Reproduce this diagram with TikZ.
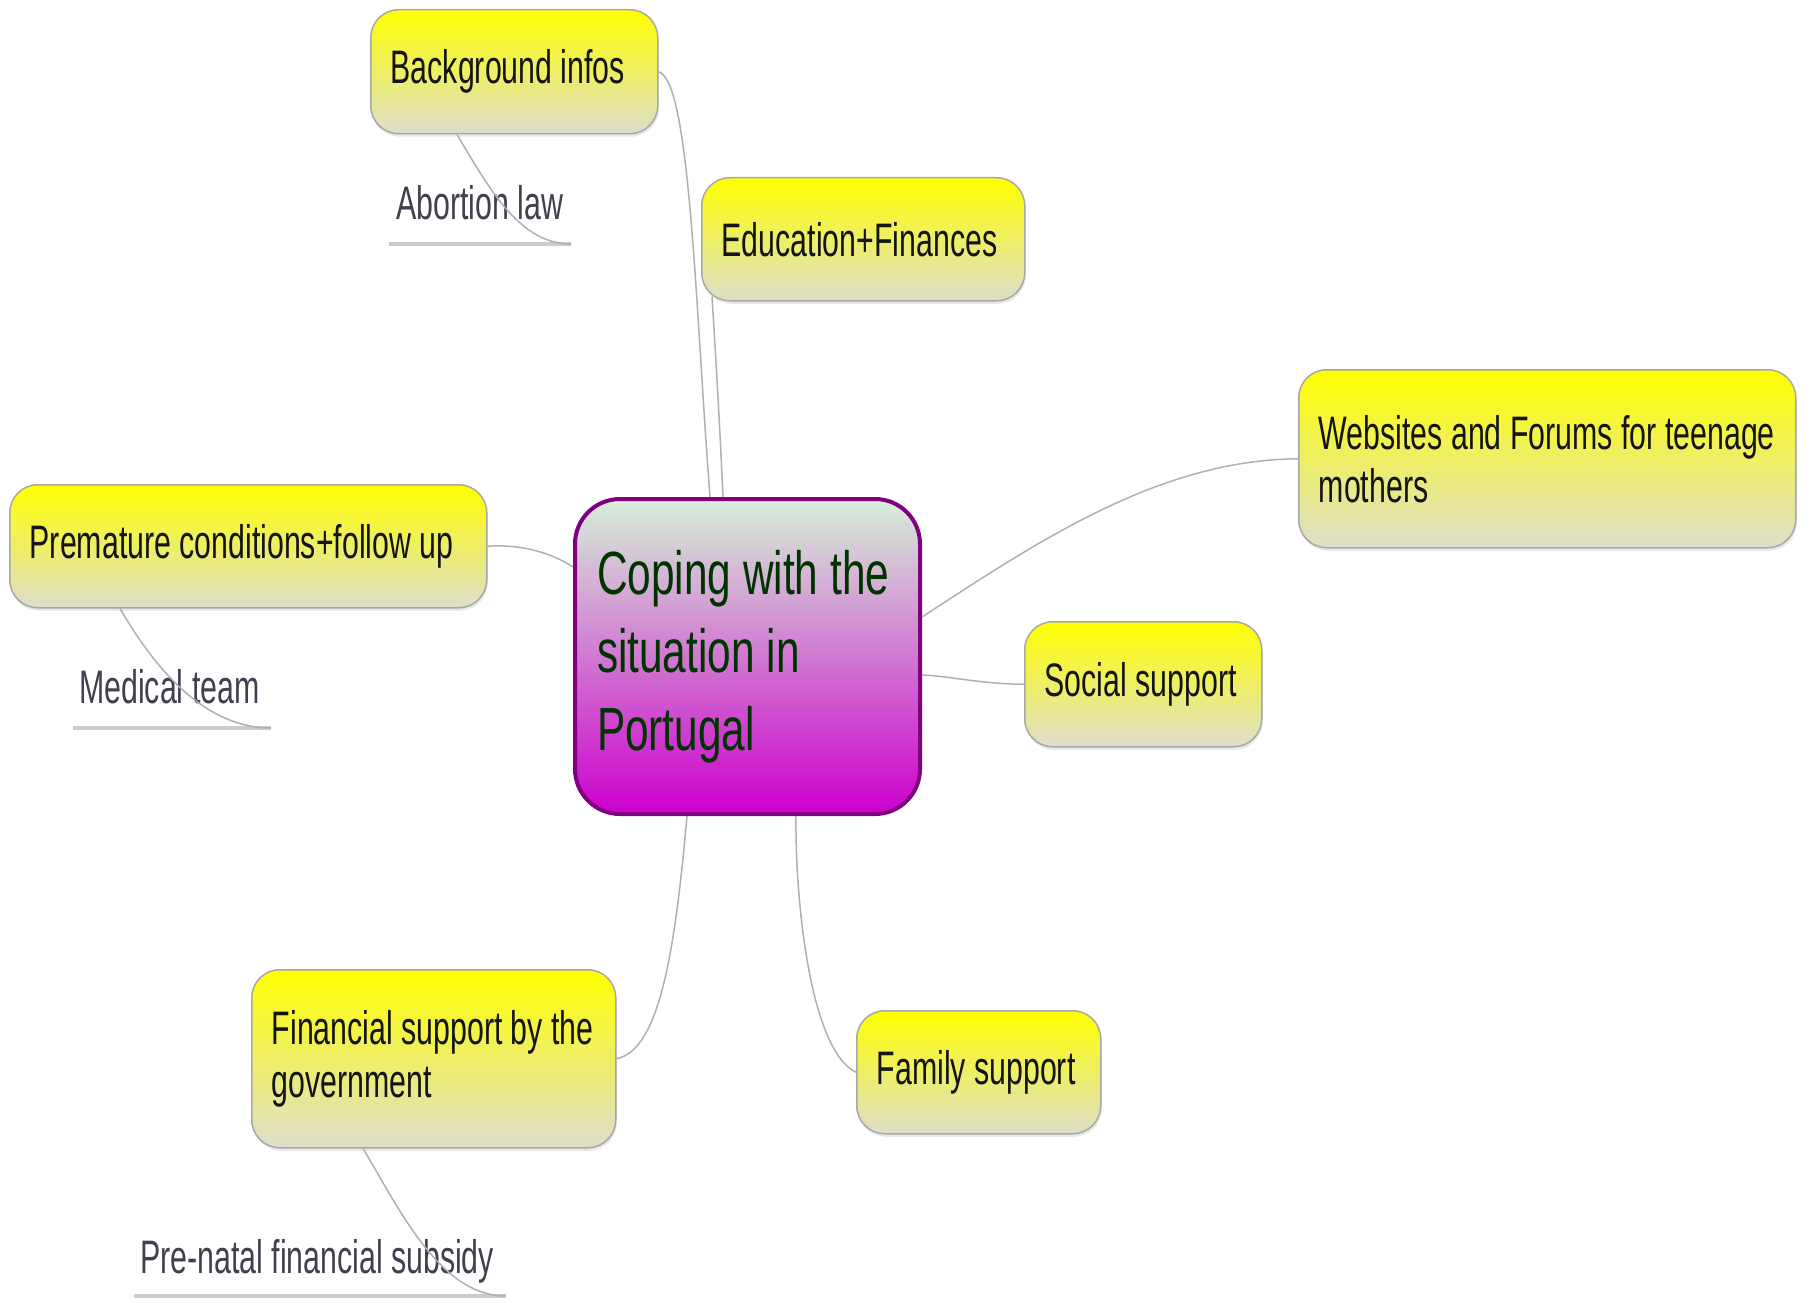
\documentclass[tikz,border=0pt]{standalone}
\usepackage{fontspec}
\setmainfont{Liberation Sans}
\newfontfamily\boxfont[FakeStretch=0.645]{Liberation Sans}
\newfontfamily\centfont[FakeStretch=0.695]{Liberation Sans}
\newcommand\natsp{\spaceskip=0pt\xspaceskip=0pt\relax}
\usetikzlibrary{shadows}
\definecolor{ylwtop}{HTML}{FFFF00}
\definecolor{ylwbot}{HTML}{DEDECC}
\definecolor{boxborder}{HTML}{A8A8A8}
\definecolor{connc}{HTML}{B0B0B0}
\definecolor{ulinec}{HTML}{CCCCCC}
\definecolor{centborder}{HTML}{800080}
\definecolor{centtop}{HTML}{D6F0D8}
\definecolor{centbot}{HTML}{CC00CC}
\definecolor{centtext}{HTML}{003300}
\definecolor{boxtext}{HTML}{141414}
\definecolor{subtext}{HTML}{40404F}
\tikzset{
  topic/.style={draw=boxborder, line width=1.5pt, rounded corners=28pt,
    top color=ylwtop, bottom color=ylwbot, anchor=north west,
    drop shadow={opacity=0.18, shadow xshift=1pt, shadow yshift=-3pt},
    font=\boxfont\fontsize{47}{53}\selectfont, text=boxtext,
    align=left, inner xsep=20pt, inner ysep=0pt},
  centre/.style={draw=centborder, line width=4pt, rounded corners=45pt,
    top color=centtop, bottom color=centbot, anchor=north west,
    font=\centfont\fontsize{61}{78}\selectfont, text=centtext,
    align=left, inner xsep=22pt, inner ysep=0pt},
  subitem/.style={anchor=base west, inner sep=0pt,
    font=\boxfont\fontsize{47}{53}\selectfont, text=subtext},
  conn/.style={draw=connc, line width=1.5pt},
  uline/.style={draw=ulinec, line width=3.5pt}
}
\begin{document}
\begin{tikzpicture}[x=1pt,y=-1pt]
\useasboundingbox (0,0) rectangle (1816,1303);
\fill[white] (0,0) rectangle (1816,1303);

\node[centre, text width=301pt, minimum height=315pt] (central) at (573,497)
  {\natsp\mbox{Coping with the}\\\mbox{situation in}\\Portugal};
\node[topic, text width=247pt, minimum height=124pt] (bg) at (370,9) {\natsp\mbox{Background infos}};
\node[topic, text width=283pt, minimum height=123pt] (edu) at (701,177) {\natsp Education+Finances};
\node[topic, text width=457pt, minimum height=178pt] (web) at (1298,369) {\natsp\mbox{Websites and Forums for teenage}\\mothers};
\node[topic, text width=437pt, minimum height=123pt] (pre) at (9,484) {\natsp\mbox{Premature conditions+follow up}};
\node[topic, text width=197pt, minimum height=125pt] (soc) at (1024,621) {\natsp\mbox{Social support}};
\node[topic, text width=204pt, minimum height=123pt] (fam) at (856,1010) {\natsp\mbox{Family support}};
\node[topic, text width=324pt, minimum height=178pt] (fin) at (251,969) {\natsp\mbox{Financial support by the}\\government};

\node[subitem] (abl) at (396,219) {Abortion law};
\node[subitem] (med) at (79,703) {Medical team};
\node[subitem] (pns) at (140,1273) {Pre-natal financial subsidy};

\coordinate (ablL) at (389,244);
\coordinate (ablR) at (571,244);
\coordinate (medL) at (73,728);
\coordinate (medR) at (271,728);
\coordinate (pnsL) at (134,1296);
\coordinate (pnsR) at (506,1296);

\draw[uline] (ablL) -- (ablR);
\draw[uline] (medL) -- (medR);
\draw[uline] (pnsL) -- (pnsR);

\draw[conn] (bg.east) .. controls (690,80) and (695,300) .. ([xshift=137pt]central.north west);
\draw[conn] ([xshift=11pt,yshift=5pt]edu.south west) .. controls (716,360) and (720,430) .. ([xshift=150pt]central.north west);
\draw[conn] (pre.east) .. controls (520,544) and (550,552) .. ([yshift=-70pt]central.north west);
\draw[conn] (web.west) .. controls (1160,460) and (1040,540) .. ([yshift=-120pt]central.north east);
\draw[conn] (soc.west) .. controls (980,684) and (950,676) .. ([yshift=-178pt]central.north east);
\draw[conn] ([xshift=-126pt]central.south east) .. controls (795,900) and (810,1050) .. (fam.west);
\draw[conn] ([xshift=114pt]central.south west) .. controls (675,950) and (660,1050) .. (fin.east);
\draw[conn] ([xshift=87pt]bg.south west) .. controls (490,190) and (520,244) .. (ablR);
\draw[conn] ([xshift=111pt]pre.south west) .. controls (150,660) and (200,728) .. (medR);
\draw[conn] ([xshift=112pt]fin.south west) .. controls (400,1210) and (440,1296) .. (pnsR);
\end{tikzpicture}
\end{document}
